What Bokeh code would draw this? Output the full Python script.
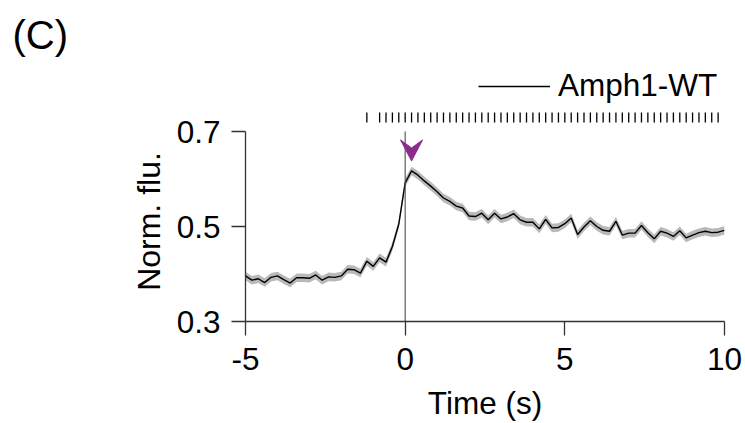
import numpy as np
from bokeh.plotting import figure
from bokeh.models import Range1d, FixedTicker, Legend, LegendItem, Title
from bokeh.embed import file_html
from bokeh.resources import INLINE

# ---------------- data ----------------
time_s = np.round(np.arange(76) * 0.2 - 5.0, 1)   # frame times, 0.2 s apart
norm_flu = [
    0.396, 0.387, 0.390, 0.382, 0.393, 0.396, 0.388, 0.381, 0.392, 0.392,
    0.391, 0.398, 0.387, 0.394, 0.393, 0.396, 0.410, 0.409, 0.402, 0.427,
    0.416, 0.434, 0.425, 0.458, 0.505, 0.592, 0.617, 0.608, 0.596, 0.585,
    0.573, 0.560, 0.553, 0.543, 0.539, 0.522, 0.521, 0.528, 0.514, 0.528,
    0.516, 0.520, 0.527, 0.514, 0.509, 0.509, 0.495, 0.515, 0.497, 0.498,
    0.506, 0.518, 0.483, 0.499, 0.512, 0.500, 0.492, 0.490, 0.511, 0.482,
    0.486, 0.486, 0.502, 0.487, 0.474, 0.490, 0.486, 0.479, 0.491, 0.476,
    0.482, 0.487, 0.490, 0.487, 0.488, 0.492,
]
sem_half = 0.009          # half-width of the grey SEM band
event_times = [
    -1.2,
    -0.8, -0.6, -0.4, -0.2, 0.0, 0.2, 0.4, 0.6, 0.8, 1.0, 1.2, 1.4, 1.6, 1.8,
    2.0, 2.2, 2.4, 2.6, 2.8, 3.0, 3.2, 3.4, 3.6, 3.8, 4.0, 4.2, 4.4, 4.6, 4.8,
    5.0, 5.2, 5.4, 5.6, 5.8, 6.0, 6.2, 6.4, 6.6, 6.8, 7.0, 7.2, 7.4, 7.6, 7.8,
    8.0, 8.2, 8.4, 8.6, 8.8, 9.0, 9.2, 9.4, 9.6, 9.8,
]
stim_time = 0.0
x_ticks = [-5, 0, 5, 10]
y_ticks = [0.3, 0.5, 0.7]
series_label = "Amph1-WT"
panel_label = "(C)"
x_title = "Time (s)"
y_title = "Norm. flu."

# ---------------- layout ----------------
FONT = "Liberation Sans"
FS = "31.5px"
W, H = 745, 423
frame_left, frame_right, frame_top, frame_bottom = 245, 724, 60, 321
y0, y1 = y_ticks[0], y_ticks[-1]
px_per_unit = (frame_bottom - 131) / (y1 - y0)
px_per_sec = (frame_right - frame_left) / (x_ticks[-1] - x_ticks[0])
y_top = y0 + (frame_bottom - frame_top) / px_per_unit

p = figure(width=W, height=H, output_backend="svg", toolbar_location=None,
           x_range=Range1d(x_ticks[0], x_ticks[-1]), y_range=Range1d(y0, y_top),
           min_border_left=frame_left, min_border_right=W - frame_right,
           min_border_top=frame_top, min_border_bottom=H - frame_bottom)
p.outline_line_color = None
p.grid.visible = False
p.background_fill_color = "white"
p.border_fill_color = "white"

t = np.asarray(time_s)
v = np.asarray(norm_flu)

# SEM band + mean trace
p.varea(x=t, y1=v - sem_half, y2=v + sem_half, fill_color="#b9b9b9", fill_alpha=1.0)
line_r = p.line(t, v, line_color="black", line_width=1.4)

# stimulus line
p.segment(x0=[stim_time], y0=[y0], x1=[stim_time], y1=[y1], line_color="#4d4d4d", line_width=1.1)

# event raster above the traces
r_lo = y1 + 9 / px_per_unit
r_hi = y1 + 19 / px_per_unit
p.segment(x0=event_times, y0=r_lo, x1=event_times, y1=r_hi, line_color="black", line_width=1.3)

# purple arrowhead over the peak
k_peak = int(np.argmax(v))
tx = t[k_peak]
tip = v[k_peak] + 10 / px_per_unit
top = tip + 21 / px_per_unit
notch = tip + 13 / px_per_unit
hw = 11 / px_per_sec
p.patch(x=[tx - hw, tx, tx + hw, tx], y=[top, tip, top, notch],
        fill_color="#8e2a8c", line_color="#8e2a8c", line_width=1)

# axes
for ax in (p.xaxis[0], p.yaxis[0]):
    ax.axis_line_color = "#333333"
    ax.axis_line_width = 1.3
    ax.major_tick_line_color = "#333333"
    ax.major_tick_line_width = 1.3
    ax.major_tick_out = 14
    ax.major_tick_in = 0
    ax.minor_tick_line_color = None
    ax.major_label_text_font = FONT
    ax.major_label_text_font_size = FS
    ax.major_label_text_color = "black"
    ax.axis_label_text_font = FONT
    ax.axis_label_text_font_size = FS
    ax.axis_label_text_font_style = "normal"
    ax.axis_label_text_color = "black"

p.xaxis.ticker = FixedTicker(ticks=x_ticks)
p.xaxis.major_label_overrides = {xt: str(xt) for xt in x_ticks}
p.xaxis.major_label_standoff = 12
p.xaxis.axis_label = x_title
p.xaxis.axis_label_standoff = 12

p.yaxis.ticker = FixedTicker(ticks=y_ticks)
p.yaxis.bounds = (y0, y1)
p.yaxis.major_label_standoff = 11

# y title, centred on the 0.3-0.7 axis span (text starts at the bottom)
y_title_fs = 32
y_title_len = 4.334 * y_title_fs          # approx. advance width of "Norm. flu."
axis_mid = frame_bottom - (y1 - y0) * px_per_unit / 2
p.add_layout(Title(text=y_title, align="left",
                   offset=frame_bottom - (axis_mid + y_title_len / 2) + 5, standoff=14,
                   text_font=FONT, text_font_size=f"{y_title_fs}px", text_font_style="normal",
                   text_color="black"), "left")

# legend inside the frame, top right
legend = Legend(items=[LegendItem(label=series_label, renderers=[line_r])],
                location=(233, 217), border_line_color=None, background_fill_alpha=0,
                padding=0, margin=0, glyph_width=72, glyph_height=30, label_standoff=8,
                label_text_font=FONT, label_text_font_size=FS, label_text_color="black")
p.add_layout(legend)

# panel label
p.add_layout(Title(text=panel_label, align="left", offset=12 - frame_left, standoff=7,
                   text_font=FONT, text_font_size="40px", text_font_style="normal",
                   text_color="black"), "above")

open("out.html", "w").write(file_html(p, INLINE))
